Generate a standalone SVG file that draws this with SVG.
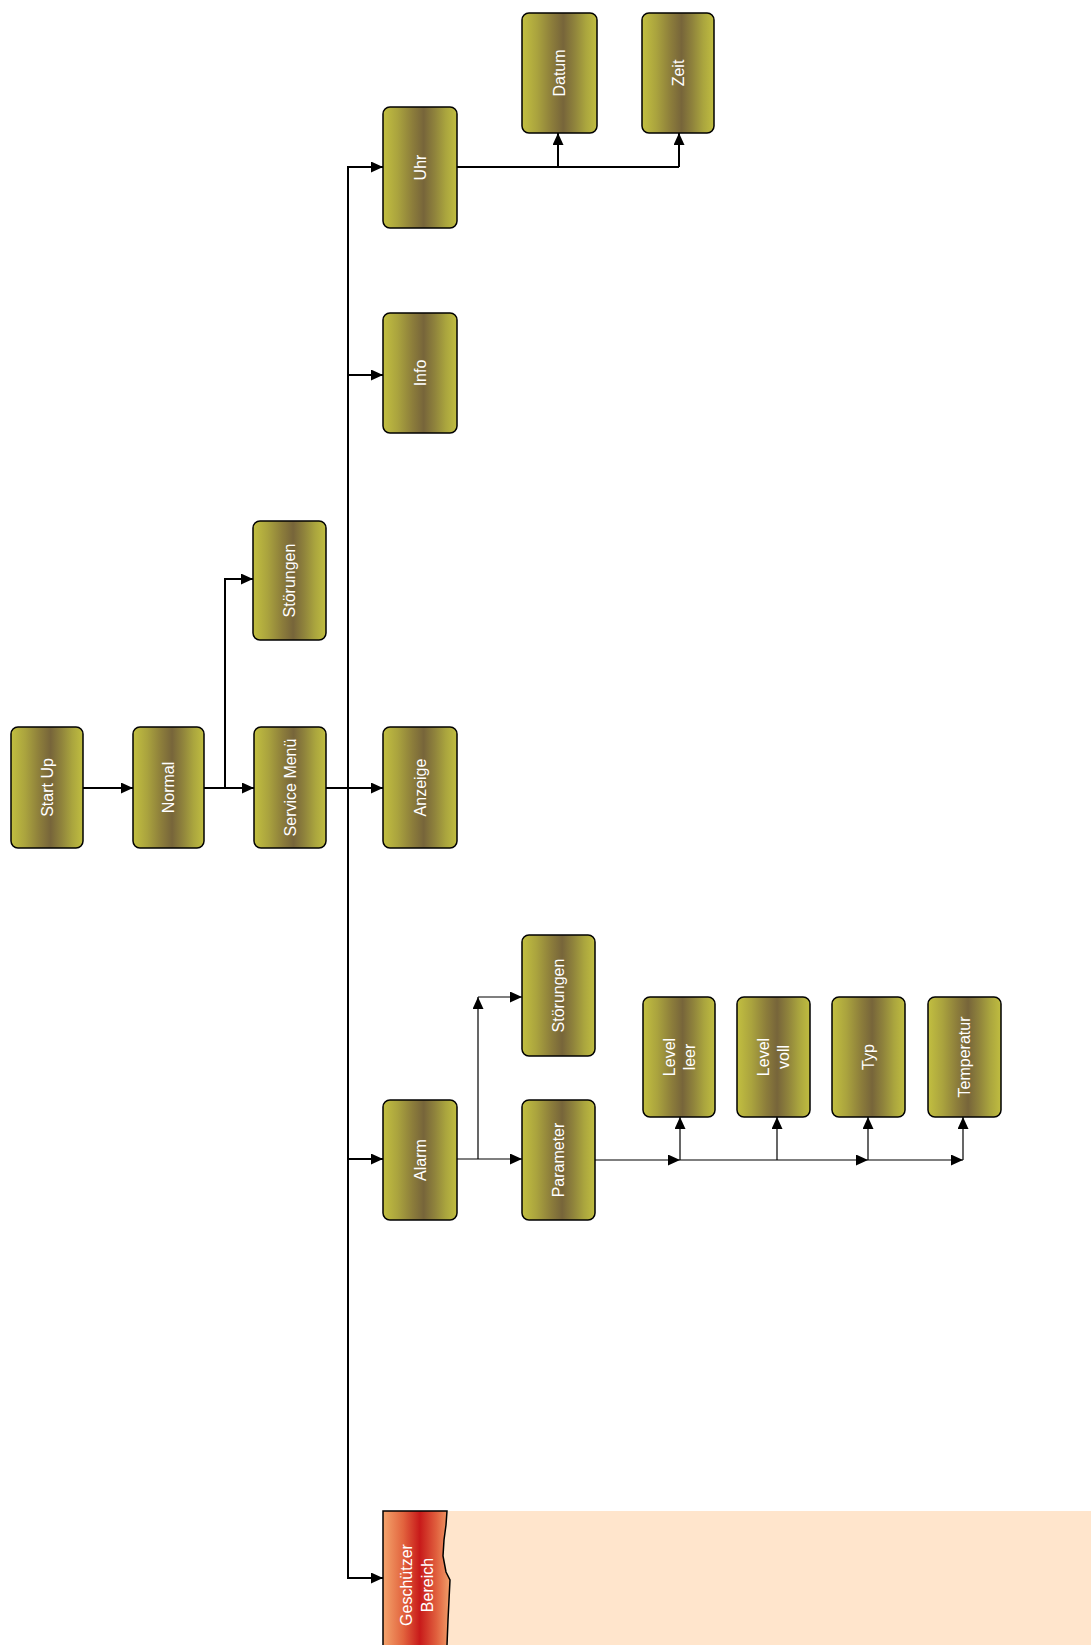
<svg xmlns="http://www.w3.org/2000/svg" width="1091" height="1645" viewBox="0 0 1091 1645">
<defs>
<linearGradient id="olive" x1="0" y1="0" x2="1" y2="0">
<stop offset="0" stop-color="#c2bf40"/>
<stop offset="0.2" stop-color="#aaa33e"/>
<stop offset="0.4" stop-color="#8c7d3b"/>
<stop offset="0.55" stop-color="#77653a"/>
<stop offset="0.7" stop-color="#8f833c"/>
<stop offset="0.85" stop-color="#aaa53e"/>
<stop offset="1" stop-color="#c0bd40"/>
</linearGradient>
<linearGradient id="red" x1="0" y1="0" x2="1" y2="0">
<stop offset="0" stop-color="#f4a46c"/>
<stop offset="0.3" stop-color="#e2643e"/>
<stop offset="0.55" stop-color="#c81a1a"/>
<stop offset="0.8" stop-color="#e0603e"/>
<stop offset="1" stop-color="#f2a06a"/>
</linearGradient>
<marker id="arr" markerUnits="userSpaceOnUse" markerWidth="12" markerHeight="11" refX="12" refY="5.5" orient="auto">
<path d="M0,0 L12,5.5 L0,11 z" fill="#000"/>
</marker>
</defs>
<style>
.box{fill:url(#olive);stroke:#000;stroke-width:1.5}
.lbl{font-family:"Liberation Sans",Arial,sans-serif;font-size:16px;fill:#fff;text-anchor:middle}
.c{fill:none;stroke:#000;stroke-width:2}
.t{fill:none;stroke:#000;stroke-width:1.2}
</style>
<rect x="0" y="0" width="1091" height="1645" fill="#fff"/>
<g id="connectors">
<path class="c" d="M83,788 H133" marker-end="url(#arr)"/>
<path class="c" d="M204,788 H254" marker-end="url(#arr)"/>
<path class="c" d="M225,788 V579 H253" marker-end="url(#arr)"/>
<path class="c" d="M326,788 H383" marker-end="url(#arr)"/>
<path class="c" d="M348,788 V167 H383" marker-end="url(#arr)"/>
<path class="c" d="M348,375 H383" marker-end="url(#arr)"/>
<path class="c" d="M348,788 V1578 H383" marker-end="url(#arr)"/>
<path class="c" d="M348,1159 H383" marker-end="url(#arr)"/>
<path class="c" d="M457,167 H679"/>
<path class="c" d="M558,167 V133" marker-end="url(#arr)"/>
<path class="c" d="M679,167 V133" marker-end="url(#arr)"/>
<path class="t" d="M457,1159 H522" marker-end="url(#arr)"/>
<path class="t" d="M478,1159 V997" marker-end="url(#arr)"/>
<path class="t" d="M478,997 H522" marker-end="url(#arr)"/>
<path class="t" d="M595,1160 H680" marker-end="url(#arr)"/>
<path class="t" d="M680,1160 V1117" marker-end="url(#arr)"/>
<path class="t" d="M680,1160 H868" marker-end="url(#arr)"/>
<path class="t" d="M777,1160 V1117" marker-end="url(#arr)"/>
<path class="t" d="M868,1160 V1117" marker-end="url(#arr)"/>
<path class="t" d="M868,1160 H963" marker-end="url(#arr)"/>
<path class="t" d="M963,1160 V1117" marker-end="url(#arr)"/>
</g>
<g id="startup"><rect class="box" x="11" y="727" width="72" height="121" rx="7"/><text class="lbl" transform="translate(47,787.5) rotate(-90)" dy="5.5">Start Up</text></g>
<g id="normal"><rect class="box" x="133" y="727" width="71" height="121" rx="7"/><text class="lbl" transform="translate(168.5,787.5) rotate(-90)" dy="5.5">Normal</text></g>
<g id="servicemenu"><rect class="box" x="254" y="727" width="72" height="121" rx="7"/><text class="lbl" transform="translate(290,787.5) rotate(-90)" dy="5.5">Service Menü</text></g>
<g id="stoerungen1"><rect class="box" x="253" y="521" width="73" height="119" rx="7"/><text class="lbl" transform="translate(289.5,580.5) rotate(-90)" dy="5.5">Störungen</text></g>
<g id="anzeige"><rect class="box" x="383" y="727" width="74" height="121" rx="7"/><text class="lbl" transform="translate(420,787.5) rotate(-90)" dy="5.5">Anzeige</text></g>
<g id="info"><rect class="box" x="383" y="313" width="74" height="120" rx="7"/><text class="lbl" transform="translate(420,373) rotate(-90)" dy="5.5">Info</text></g>
<g id="uhr"><rect class="box" x="383" y="107" width="74" height="121" rx="7"/><text class="lbl" transform="translate(420,167.5) rotate(-90)" dy="5.5">Uhr</text></g>
<g id="datum"><rect class="box" x="522" y="13" width="75" height="120" rx="7"/><text class="lbl" transform="translate(559.5,73) rotate(-90)" dy="5.5">Datum</text></g>
<g id="zeit"><rect class="box" x="642" y="13" width="72" height="120" rx="7"/><text class="lbl" transform="translate(678,73) rotate(-90)" dy="5.5">Zeit</text></g>
<g id="alarm"><rect class="box" x="383" y="1100" width="74" height="120" rx="7"/><text class="lbl" transform="translate(420,1160) rotate(-90)" dy="5.5">Alarm</text></g>
<g id="stoerungen2"><rect class="box" x="522" y="935" width="73" height="121" rx="7"/><text class="lbl" transform="translate(558.5,995.5) rotate(-90)" dy="5.5">Störungen</text></g>
<g id="parameter"><rect class="box" x="522" y="1100" width="73" height="120" rx="7"/><text class="lbl" transform="translate(558.5,1160) rotate(-90)" dy="5.5">Parameter</text></g>
<g id="levelleer"><rect class="box" x="643" y="997" width="72" height="120" rx="7"/><text class="lbl" transform="translate(679,1057) rotate(-90)"><tspan x="0" dy="-4.5">Level</tspan><tspan x="0" dy="20">leer</tspan></text></g>
<g id="levelvoll"><rect class="box" x="737" y="997" width="73" height="120" rx="7"/><text class="lbl" transform="translate(773.5,1057) rotate(-90)"><tspan x="0" dy="-4.5">Level</tspan><tspan x="0" dy="20">voll</tspan></text></g>
<g id="typ"><rect class="box" x="832" y="997" width="73" height="120" rx="7"/><text class="lbl" transform="translate(868.5,1057) rotate(-90)" dy="5.5">Typ</text></g>
<g id="temperatur"><rect class="box" x="928" y="997" width="73" height="120" rx="7"/><text class="lbl" transform="translate(964.5,1057) rotate(-90)" dy="5.5">Temperatur</text></g>
<g id="geschuetzt">
<rect x="440" y="1511" width="651" height="134" fill="#ffe5cc"/>
<path d="M383,1511 H447 L446,1525 L444,1540 L443,1556 L446,1572 L450,1580 L449,1600 L448,1620 L447,1645 H383 Z" fill="url(#red)"/>
<path d="M383,1645 V1511 H447 L446,1525 L444,1540 L443,1556 L446,1572 L450,1580 L449,1600 L448,1620 L447,1645" fill="none" stroke="#000" stroke-width="1.5"/>
<text class="lbl" transform="translate(415,1585) rotate(-90)"><tspan x="0" dy="-3">Geschützer</tspan><tspan x="0" dy="21">Bereich</tspan></text>
</g>
</svg>
